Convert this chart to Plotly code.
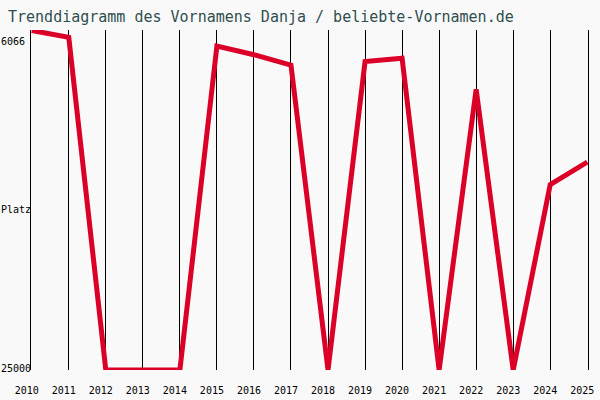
import plotly.graph_objects as go

years = list(range(2010, 2026))
ranks = [5400, 5800, 25000, 25000, 25000, 6300, 6800, 7400, 25000,
         7200, 7000, 25000, 8800, 25000, 14300, 13000]
title = "Trenddiagramm des Vornamens Danja / beliebte-Vornamen.de"
y_top_label = "6066"
y_mid_label = "Platz"
y_bot_label = "25000"
y_top_rank = 5374
y_bot_rank = 25000

MONO = "DejaVu Sans Mono"

fig = go.Figure()
fig.add_trace(go.Scatter(
    x=years, y=ranks, mode="lines",
    line=dict(color="#dc0028", width=5),
    cliponaxis=False, hoverinfo="skip",
))

fig.update_layout(
    width=600, height=400,
    margin=dict(l=31, r=12, t=30, b=30, autoexpand=False),
    paper_bgcolor="#f9f9f9", plot_bgcolor="#f9f9f9",
    showlegend=False,
    font=dict(family=MONO, size=10, color="#000000"),
    title=dict(text=title, x=8/600, xanchor="left", y=1-17/400, yanchor="middle",
               font=dict(family=MONO, size=15, color="#2f4f4f")),
)
fig.update_xaxes(
    range=[2009.98, 2025.02], tickvals=years, ticktext=[str(y) for y in years],
    showgrid=True, gridcolor="#000000", gridwidth=1, zeroline=False, automargin=False,
    showline=False, ticks="", ticklabelshift=-5, ticklabelstandoff=13,
    tickfont=dict(family=MONO, size=10, color="#000000"),
)
fig.update_yaxes(
    range=[y_bot_rank, y_top_rank], showgrid=False, zeroline=False, automargin=False,
    showticklabels=False, showline=True, linecolor="#000000", linewidth=1,
    mirror=True, layer="below traces", ticks="",
)
fig.add_annotation(text=y_top_label, xref="paper", yref="y", x=-31/557, y=6066,
                   xanchor="left", yanchor="middle", showarrow=False, borderpad=0,
                   font=dict(family=MONO, size=10, color="#000000"))
fig.add_annotation(text=y_mid_label, xref="paper", yref="paper", x=-31/557, y=1-(209-30)/340,
                   xanchor="left", yanchor="middle", showarrow=False, borderpad=0,
                   font=dict(family=MONO, size=10, color="#000000"))
fig.add_annotation(text=y_bot_label, xref="paper", yref="paper", x=-31/557, y=1-(368-30)/340,
                   xanchor="left", yanchor="middle", showarrow=False, borderpad=0,
                   font=dict(family=MONO, size=10, color="#000000"))

fig.write_html("out.html")
